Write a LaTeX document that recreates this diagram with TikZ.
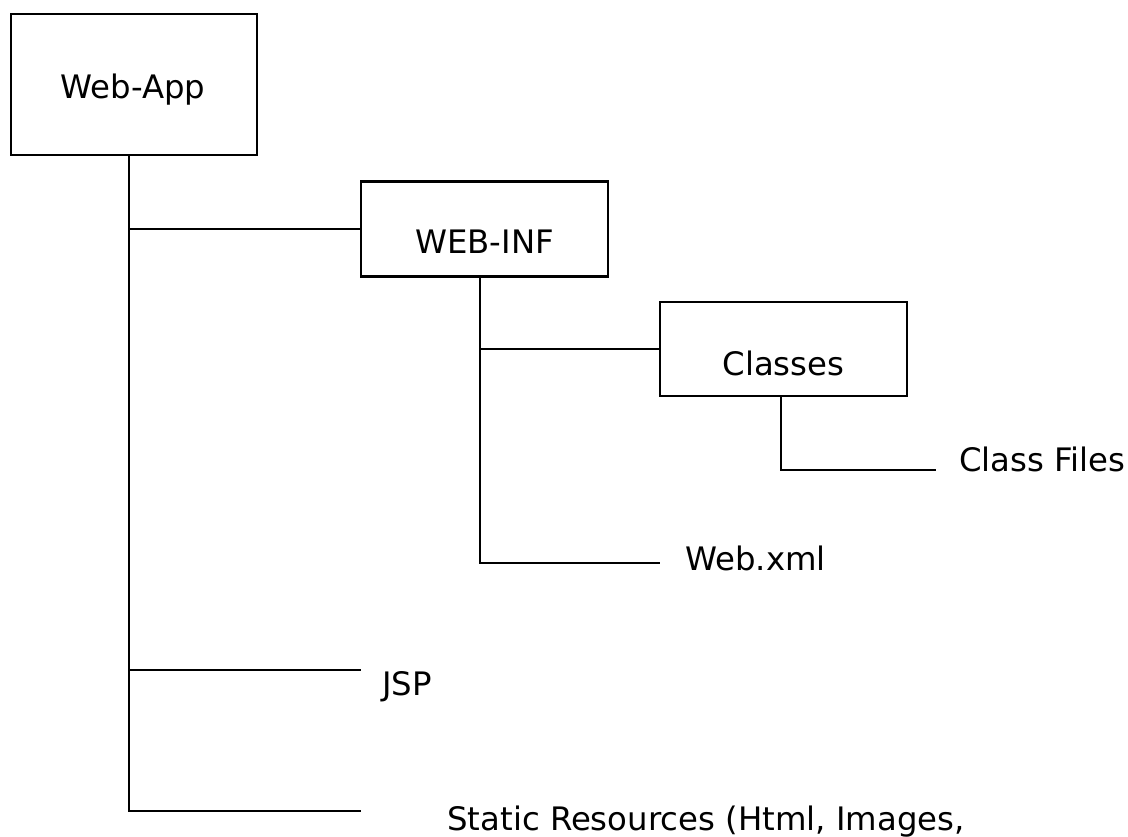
\documentclass[tikz,border=0pt]{standalone}
\usepackage{fontspec}
\setmainfont{DejaVu Sans}
\tikzset{wire/.style={line width=1.5pt}}
\tikzset{folder/.style={draw, line width=1.5pt, inner sep=0pt}}
\tikzset{txt/.style={font=\fontsize{23}{28}\selectfont, inner sep=0pt, text height=16.8pt, text depth=0pt}}
\tikzset{leaf/.style={txt, anchor=west}}

\begin{document}
\begin{tikzpicture}[x=0.025cm, y=-0.025cm]
\useasboundingbox (0,0) rectangle (1128,836);
% folders
\node[folder, minimum width=6.15cm, minimum height=3.525cm] (webapp) at (134,84.5) {};
\node[folder, minimum width=6.175cm, minimum height=2.375cm] (webinf) at (484.5,229) {};
\node[folder, minimum width=6.175cm, minimum height=2.35cm] (classes) at (783.5,349) {};
\node[txt] (webapp-t) at (133,86.5) {Web-App};
\node[txt] (webinf-t) at (484.5,242) {WEB-INF};
\node[txt] (classes-t) at (783.5,363.5) {Classes};
% files
\node[leaf] (classfiles) at (959,459.5) {Class Files};
\node[leaf] (webxml) at (685,559) {Web.xml};
\node[leaf] (jsp) at (382,684) {JSP};
\node[leaf] (static) at (447,818.5) {Static Resources (Html, Images,};
% line ends
\coordinate (trunk) at (129,811);
\coordinate (static-end) at (361,811);
\coordinate (jsp-end) at (361,670);
\coordinate (inf-corner) at (480,563);
\coordinate (webxml-end) at (660,563);
\coordinate (cls-corner) at (781,470);
\coordinate (cls-end) at (936,470);
\draw[wire] (webapp.south -| trunk) -- (trunk) -- (static-end);
\draw[wire] (webinf.west -| trunk) -- (webinf.west);
\draw[wire] (jsp-end -| trunk) -- (jsp-end);
\draw[wire] (webinf.south -| inf-corner) -- (inf-corner) -- (webxml-end);
\draw[wire] (classes.west -| inf-corner) -- (classes.west);
\draw[wire] (classes.south -| cls-corner) -- (cls-corner) -- (cls-end);
\end{tikzpicture}
\end{document}
